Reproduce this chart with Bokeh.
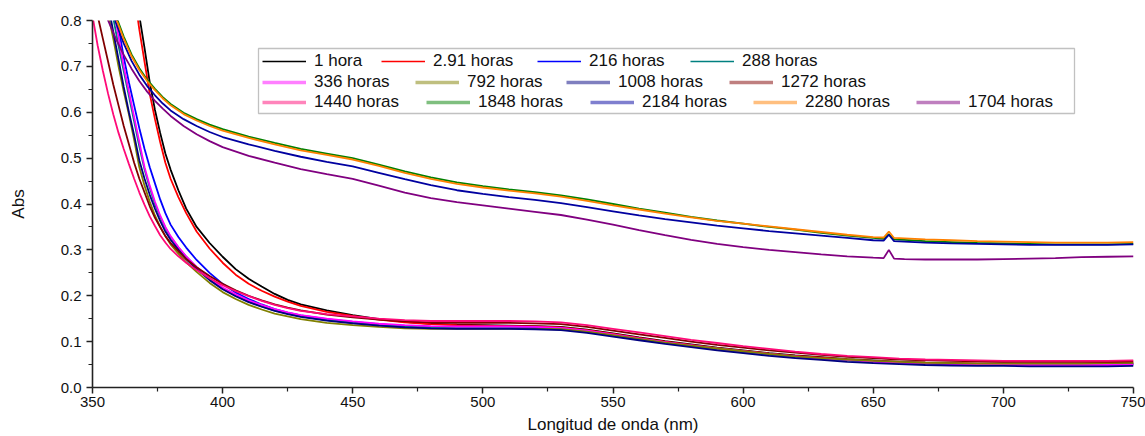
from bokeh.plotting import figure
from bokeh.models import Range1d, FixedTicker, PrintfTickFormatter, Legend, LegendItem, BoxAnnotation
from bokeh.embed import file_html
from bokeh.resources import INLINE

# ---------------- data ----------------
X_LOW = [350, 352, 354, 356, 358, 360, 362, 364, 366, 368, 370, 372, 374, 376, 378, 380,
         383, 386, 390, 395, 400, 405, 410, 415, 420, 425, 430,
         440, 450, 460, 470, 480, 490, 500, 510, 520, 530, 540, 550, 560, 570, 580, 590,
         600, 610, 620, 630, 640, 650, 660, 670, 680, 690, 700, 710, 720, 730, 740, 750]

h1 = [1.60, 1.52, 1.45, 1.37, 1.28, 1.19, 1.10, 1.00, 0.90, 0.81, 0.74, 0.665, 0.605, 0.555, 0.51, 0.475,
      0.43, 0.39, 0.35, 0.315, 0.285, 0.258, 0.237, 0.22, 0.204, 0.191, 0.181,
      0.168, 0.158, 0.149, 0.143, 0.139, 0.137, 0.136, 0.135, 0.134, 0.132, 0.126, 0.118, 0.109, 0.101, 0.094, 0.087,
      0.081, 0.075, 0.070, 0.066, 0.062, 0.059, 0.056, 0.054, 0.053, 0.052, 0.052, 0.051, 0.051, 0.051, 0.051, 0.052]
h2_91 = [1.55, 1.47, 1.40, 1.32, 1.23, 1.14, 1.05, 0.95, 0.86, 0.78, 0.71, 0.64, 0.585, 0.535, 0.49, 0.455,
         0.415, 0.38, 0.34, 0.303, 0.272, 0.246, 0.226, 0.211, 0.198, 0.187, 0.178,
         0.165, 0.156, 0.148, 0.142, 0.138, 0.136, 0.135, 0.134, 0.133, 0.131, 0.125, 0.117, 0.108, 0.100, 0.093, 0.086,
         0.080, 0.074, 0.069, 0.065, 0.061, 0.058, 0.056, 0.054, 0.053, 0.052, 0.052, 0.052, 0.052, 0.052, 0.053, 0.054]
h216 = [1.10, 1.04, 0.98, 0.92, 0.85, 0.785, 0.72, 0.665, 0.615, 0.565, 0.52, 0.48, 0.445, 0.41, 0.38, 0.355,
        0.328, 0.305, 0.278, 0.25, 0.226, 0.207, 0.193, 0.181, 0.171, 0.163, 0.157,
        0.149, 0.143, 0.138, 0.134, 0.132, 0.131, 0.131, 0.131, 0.130, 0.128, 0.122, 0.114, 0.106, 0.098, 0.091, 0.084,
        0.078, 0.072, 0.067, 0.063, 0.060, 0.057, 0.055, 0.053, 0.052, 0.051, 0.050, 0.050, 0.050, 0.050, 0.050, 0.051]
h288 = [1.05, 0.99, 0.93, 0.87, 0.805, 0.745, 0.69, 0.635, 0.58, 0.525, 0.475, 0.435, 0.40, 0.372, 0.348, 0.328,
        0.305, 0.285, 0.262, 0.237, 0.216, 0.20, 0.187, 0.177, 0.168, 0.161, 0.155,
        0.147, 0.141, 0.137, 0.133, 0.131, 0.130, 0.130, 0.130, 0.129, 0.127, 0.121, 0.113, 0.105, 0.097, 0.090, 0.083,
        0.077, 0.071, 0.066, 0.062, 0.059, 0.056, 0.054, 0.052, 0.051, 0.050, 0.050, 0.049, 0.049, 0.049, 0.050, 0.050]
h336 = [1.08, 1.02, 0.96, 0.90, 0.83, 0.765, 0.70, 0.645, 0.59, 0.535, 0.48, 0.44, 0.405, 0.375, 0.35, 0.33,
        0.306, 0.286, 0.263, 0.239, 0.218, 0.203, 0.19, 0.18, 0.171, 0.164, 0.158,
        0.150, 0.144, 0.139, 0.136, 0.134, 0.133, 0.133, 0.133, 0.132, 0.130, 0.124, 0.116, 0.107, 0.099, 0.092, 0.085,
        0.079, 0.073, 0.068, 0.063, 0.060, 0.056, 0.054, 0.052, 0.051, 0.050, 0.049, 0.049, 0.049, 0.049, 0.049, 0.050]
h792 = [0.98, 0.93, 0.87, 0.815, 0.76, 0.70, 0.645, 0.595, 0.54, 0.48, 0.44, 0.405, 0.375, 0.35, 0.33, 0.312,
        0.292, 0.273, 0.252, 0.228, 0.208, 0.193, 0.18, 0.17, 0.161, 0.155, 0.149,
        0.141, 0.136, 0.132, 0.129, 0.128, 0.128, 0.128, 0.128, 0.128, 0.127, 0.122, 0.114, 0.106, 0.098, 0.091, 0.085,
        0.079, 0.073, 0.068, 0.064, 0.061, 0.058, 0.056, 0.054, 0.053, 0.052, 0.052, 0.052, 0.052, 0.052, 0.053, 0.054]
h1008 = [1.00, 0.95, 0.89, 0.835, 0.775, 0.715, 0.655, 0.60, 0.55, 0.495, 0.455, 0.42, 0.39, 0.363, 0.34, 0.322,
         0.30, 0.28, 0.258, 0.234, 0.214, 0.199, 0.186, 0.176, 0.167, 0.16, 0.154,
         0.146, 0.140, 0.135, 0.131, 0.129, 0.128, 0.128, 0.128, 0.127, 0.125, 0.119, 0.111, 0.103, 0.095, 0.088, 0.081,
         0.075, 0.069, 0.064, 0.060, 0.056, 0.053, 0.051, 0.049, 0.048, 0.047, 0.047, 0.046, 0.046, 0.046, 0.046, 0.047]
h1272 = [0.87, 0.81, 0.76, 0.71, 0.66, 0.615, 0.57, 0.53, 0.49, 0.455, 0.425, 0.395, 0.37, 0.35, 0.33, 0.315,
         0.297, 0.28, 0.262, 0.243, 0.226, 0.212, 0.20, 0.19, 0.181, 0.174, 0.168,
         0.159, 0.153, 0.148, 0.144, 0.142, 0.141, 0.141, 0.141, 0.140, 0.138, 0.132, 0.124, 0.116, 0.108, 0.100, 0.093,
         0.087, 0.081, 0.076, 0.071, 0.067, 0.064, 0.061, 0.059, 0.058, 0.057, 0.056, 0.056, 0.056, 0.056, 0.056, 0.057]
h1440 = [0.81, 0.745, 0.69, 0.64, 0.595, 0.555, 0.52, 0.487, 0.455, 0.425, 0.398, 0.373, 0.352, 0.332, 0.316, 0.302,
         0.286, 0.272, 0.256, 0.238, 0.223, 0.21, 0.199, 0.189, 0.18, 0.173, 0.167,
         0.160, 0.155, 0.150, 0.147, 0.145, 0.145, 0.145, 0.145, 0.144, 0.142, 0.136, 0.128, 0.120, 0.112, 0.104, 0.097,
         0.090, 0.084, 0.078, 0.073, 0.069, 0.066, 0.063, 0.061, 0.060, 0.059, 0.058, 0.058, 0.058, 0.058, 0.058, 0.059]

X_HIGH = [350, 353, 356, 359, 362, 365, 368, 371, 374, 377, 380, 385, 390, 395,
          400, 410, 420, 430, 440, 450, 460, 470, 480, 490, 500, 510, 520, 530, 540, 550,
          560, 570, 580, 590, 600, 610, 620, 630, 640, 650, 654, 656, 658, 662,
          670, 680, 690, 700, 710, 720, 730, 740, 750]

h1848 = [0.99, 0.93, 0.868, 0.81, 0.765, 0.726, 0.696, 0.671, 0.651, 0.633, 0.618, 0.599, 0.585, 0.573,
         0.563, 0.547, 0.533, 0.52, 0.51, 0.50, 0.486, 0.471, 0.458, 0.447, 0.439, 0.432, 0.426, 0.419, 0.41, 0.40,
         0.39, 0.381, 0.372, 0.364, 0.357, 0.35, 0.344, 0.337, 0.331, 0.326, 0.324, 0.334, 0.323, 0.322,
         0.319, 0.317, 0.315, 0.314, 0.313, 0.312, 0.312, 0.312, 0.313]
h2184 = [0.97, 0.91, 0.85, 0.795, 0.75, 0.712, 0.682, 0.657, 0.637, 0.619, 0.604, 0.585, 0.57, 0.557,
         0.546, 0.53, 0.516, 0.503, 0.492, 0.482, 0.468, 0.454, 0.441, 0.43, 0.422, 0.415, 0.409, 0.402, 0.393, 0.384,
         0.375, 0.367, 0.36, 0.353, 0.347, 0.341, 0.336, 0.331, 0.326, 0.321, 0.32, 0.333, 0.319, 0.318,
         0.316, 0.314, 0.313, 0.312, 0.311, 0.311, 0.311, 0.311, 0.312]
h2280 = [0.98, 0.92, 0.86, 0.805, 0.76, 0.722, 0.692, 0.668, 0.648, 0.63, 0.615, 0.596, 0.582, 0.57,
         0.56, 0.544, 0.53, 0.517, 0.507, 0.497, 0.483, 0.468, 0.455, 0.444, 0.436, 0.429, 0.423, 0.416, 0.407, 0.397,
         0.388, 0.379, 0.371, 0.363, 0.357, 0.351, 0.345, 0.339, 0.333, 0.328, 0.327, 0.34, 0.326, 0.325,
         0.323, 0.321, 0.319, 0.318, 0.317, 0.316, 0.316, 0.316, 0.317]
h1704 = [0.90, 0.85, 0.80, 0.76, 0.725, 0.695, 0.668, 0.645, 0.625, 0.608, 0.592, 0.57, 0.552, 0.537,
         0.524, 0.505, 0.49, 0.476, 0.465, 0.455, 0.44, 0.425, 0.413, 0.404, 0.397, 0.39, 0.383, 0.376, 0.366, 0.355,
         0.343, 0.332, 0.322, 0.313, 0.306, 0.30, 0.295, 0.29, 0.286, 0.283, 0.282, 0.30, 0.281, 0.28,
         0.279, 0.279, 0.279, 0.28, 0.281, 0.282, 0.284, 0.285, 0.286]

LABELS = ["1 hora", "2.91 horas", "216 horas", "288 horas",
          "336 horas", "792 horas", "1008 horas", "1272 horas",
          "1440 horas", "1848 horas", "2184 horas", "2280 horas", "1704 horas"]
COLORS = ["#000000", "#FF0000", "#0000FF", "#008080",
          "#FF00FF", "#808000", "#000080", "#800000",
          "#FF0A78", "#008000", "#0000A0", "#FF8000", "#800080"]

X_TICKS = [350, 400, 450, 500, 550, 600, 650, 700, 750]
X_MINOR = [375, 425, 475, 525, 575, 625, 675, 725]
Y_TICKS = [0.0, 0.1, 0.2, 0.3, 0.4, 0.5, 0.6, 0.7, 0.8]
Y_MINOR = [0.05, 0.15, 0.25, 0.35, 0.45, 0.55, 0.65, 0.75]

SERIES = [(X_LOW, h1), (X_LOW, h2_91), (X_LOW, h216), (X_LOW, h288),
          (X_LOW, h336), (X_LOW, h792), (X_LOW, h1008), (X_LOW, h1272),
          (X_LOW, h1440), (X_HIGH, h1848), (X_HIGH, h2184), (X_HIGH, h2280), (X_HIGH, h1704)]

# ---------------- layout ----------------
W, H = 1145, 436
FL, FR, FT, FB = 92, 12, 20, 49
FONT = "Liberation Sans"

p = figure(width=W, height=H, output_backend="svg", toolbar_location=None,
           x_range=Range1d(350, 750), y_range=Range1d(0, 0.8),
           min_border_left=FL, min_border_right=FR, min_border_top=FT, min_border_bottom=FB,
           x_axis_label="Longitud de onda (nm)", y_axis_label="Abs")
p.extra_y_ranges = {"legend_only": Range1d(50, 60)}
p.xgrid.visible = False
p.ygrid.visible = False
p.outline_line_color = None
p.background_fill_color = "white"
p.border_fill_color = "white"

for ax in (p.xaxis[0], p.yaxis[0]):
    ax.axis_line_width = 1.6
    ax.axis_line_color = "#222222"
    ax.major_tick_line_width = 1.5
    ax.minor_tick_line_width = 1.2
    ax.major_tick_line_color = "#222222"
    ax.minor_tick_line_color = "#222222"
    ax.major_tick_in = 0
    ax.major_tick_out = 6
    ax.minor_tick_in = 0
    ax.minor_tick_out = 4
    ax.major_label_text_font = FONT
    ax.major_label_text_font_size = "15px"
    ax.major_label_text_color = "#111111"
    ax.axis_label_text_font = FONT
    ax.axis_label_text_font_size = "17px"
    ax.axis_label_text_font_style = "normal"
    ax.axis_label_text_color = "#111111"

p.xaxis.ticker = FixedTicker(ticks=X_TICKS, minor_ticks=X_MINOR)
p.yaxis.ticker = FixedTicker(ticks=Y_TICKS, minor_ticks=Y_MINOR)
p.yaxis.formatter = PrintfTickFormatter(format="%.1f")
p.xaxis.major_label_standoff = 3
p.xaxis.axis_label_standoff = 5
p.yaxis.major_label_standoff = 5
p.yaxis.axis_label_standoff = 30

for (xs, ys), c in zip(SERIES, COLORS):
    p.line(xs, ys, line_color=c, line_width=1.8)

# ---------------- legend ----------------
fw = W - FL - FR
fh = H - FT - FB
def px_to_x(px):
    return 350 + (px - FL) * 400 / fw
def px_to_y(py):
    return (FT + fh - py) * 0.8 / fh

box = BoxAnnotation(left=px_to_x(258), right=px_to_x(1074), top=px_to_y(48), bottom=px_to_y(113),
                    fill_alpha=0, line_color="#333333", line_width=1.3)
p.add_layout(box)

ROW_Y = [61, 82, 102]
ITEM_X = [262, 381, 537, 690,
          262, 415, 566, 729,
          262, 426, 590, 753, 916]
ITEM_ROW = [0, 0, 0, 0, 1, 1, 1, 1, 2, 2, 2, 2, 2]

for i, lab in enumerate(LABELS):
    row = ITEM_ROW[i]
    xs, ys = SERIES[i]
    if row == 0:
        lr = p.line(xs, ys, line_color=COLORS[i], line_width=1.3, y_range_name="legend_only")
    else:
        lr = p.line(xs, ys, line_color=COLORS[i], line_width=3.5, line_alpha=0.5,
                    y_range_name="legend_only")
    gh = 20
    leg = Legend(items=[LegendItem(label=lab, renderers=[lr])],
                 location=(ITEM_X[i] - FL, (FT + fh) - (ROW_Y[row] + gh / 2)),
                 orientation="horizontal", border_line_color=None, background_fill_alpha=0,
                 padding=0, margin=0, spacing=0, glyph_width=44, glyph_height=gh,
                 label_height=gh, label_standoff=8,
                 label_text_font=FONT, label_text_font_size="17px", label_text_color="#111111")
    p.add_layout(leg)

open("out.html", "w").write(file_html(p, INLINE))
